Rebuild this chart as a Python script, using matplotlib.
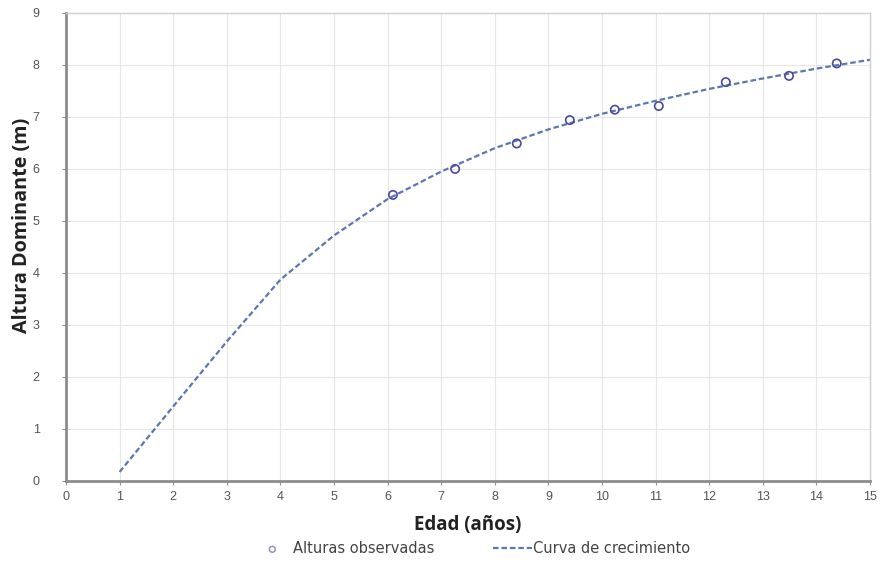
import numpy as np
import matplotlib
matplotlib.use("Agg")
import matplotlib.pyplot as plt

# Datos observados
edad_obs = [6.1, 7.26, 8.41, 9.4, 10.24, 11.06, 12.31, 13.49, 14.38]
altura_obs = [5.5, 6.0, 6.49, 6.94, 7.14, 7.21, 7.67, 7.79, 8.03]

# Curva de crecimiento (valores leidos por edad)
edad_curva = [1, 2, 3, 4, 5, 6, 7, 8, 9, 10, 11, 12, 13, 14, 15]
altura_curva = [0.17, 1.43, 2.68, 3.87, 4.72, 5.42, 5.95, 6.4, 6.76, 7.06, 7.31, 7.54, 7.74, 7.93, 8.1]

xticks = list(range(0, 16))
yticks = list(range(0, 10))

fig = plt.figure(figsize=(8.8, 5.65), dpi=100)
ax = fig.add_axes([0.075, 0.149, 0.9136, 0.828])

ax.plot(edad_curva, altura_curva, linestyle=(0, (2.5, 1.3)), color="#5a78b0",
        linewidth=1.6, label="Curva de crecimiento", zorder=2)
ax.scatter(edad_obs, altura_obs, s=36, facecolors="none", edgecolors="#4a4aa0",
           linewidths=1.2, label="Alturas observadas", zorder=3)

ax.set_xlim(0, 15)
ax.set_ylim(0, 9)
ax.set_xticks(xticks)
ax.set_yticks(yticks)
ax.grid(True, color="#e6e6e6", linewidth=0.8)
ax.set_axisbelow(True)

for s in ["left", "bottom"]:
    ax.spines[s].set_color("#8c8c8c")
    ax.spines[s].set_linewidth(2)
for s in ["top", "right"]:
    ax.spines[s].set_color("#d0d0d0")
    ax.spines[s].set_linewidth(1)

ax.tick_params(colors="#8c8c8c", labelcolor="#555555", labelsize=9, length=3)
ax.tick_params(axis="y", pad=16)
ax.tick_params(axis="x", pad=4)
for lab in ax.get_xticklabels() + ax.get_yticklabels():
    lab.set_family("Liberation Sans")

ax.set_xlabel("Edad (años)", fontsize=13.5, fontweight="bold", family="Open Sans",
              color="#222222", labelpad=9)
ax.set_ylabel("Altura Dominante (m)", fontsize=14.2, fontweight="bold", family="Open Sans",
              color="#222222")
ax.yaxis.set_label_coords(-0.042, 0.547)

handles, labels = ax.get_legend_handles_labels()
leg = fig.legend(handles[::-1], labels[::-1], loc="center", bbox_to_anchor=(0.536, 0.029),
                 ncol=2, frameon=False, columnspacing=4.0, markerscale=0.7,
                 handlelength=2.67, handletextpad=0.1,
                 prop={"family": "DejaVu Sans", "size": 10.5})
leg.legend_handles[0].set_edgecolor("#9a9ab8")
for t in leg.get_texts():
    t.set_color("#444444")

fig.savefig("out.png", dpi=100)
